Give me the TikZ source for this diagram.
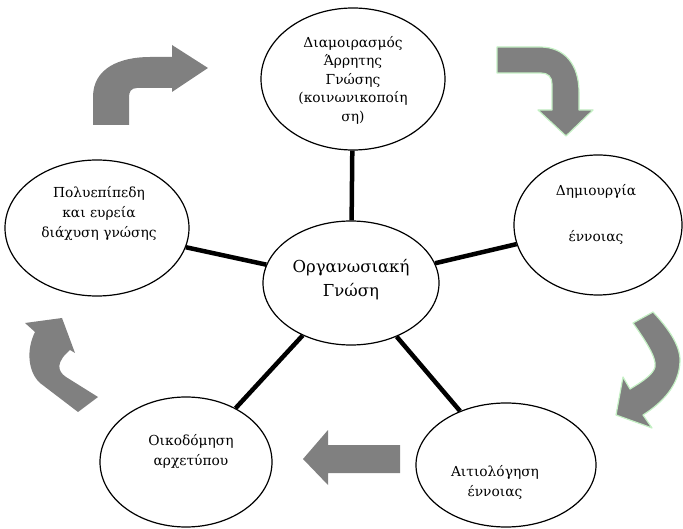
\documentclass[tikz,border=0pt]{standalone}
\usepackage{fontspec}
\setmainfont{DejaVu Serif}
\usetikzlibrary{shapes.geometric}
\definecolor{arrowgray}{RGB}{128,128,128}
\definecolor{paleedge}{RGB}{196,240,196}
\begin{document}
\begin{tikzpicture}[x=1pt,y=-1pt,
  bubble/.style={draw,ellipse,line width=1.2pt,inner sep=0pt},
  caption/.style={align=center,inner sep=0pt,font=\fontsize{13.8}{20}\selectfont},
  bigcaption/.style={align=center,inner sep=0pt,font=\fontsize{16.5}{24}\selectfont},
  spoke/.style={line width=4.5pt},
  flow/.style={fill=arrowgray},
  flowedge/.style={fill=arrowgray,draw=paleedge,line width=1.2pt,line join=round}]
\useasboundingbox (0,0) rectangle (683,529);

% ellipses
\node[bubble,minimum width=176pt,minimum height=124pt] (ctr) at (351,283) {};
\node[bubble,minimum width=184pt,minimum height=142pt] (top) at (353,79) {};
\node[bubble,minimum width=168pt,minimum height=140pt] (rgt) at (598,225) {};
\node[bubble,minimum width=184pt,minimum height=136pt] (lft) at (97,228) {};
\node[bubble,minimum width=172pt,minimum height=130pt] (bl) at (186,462) {};
\node[bubble,minimum width=180pt,minimum height=124pt] (br) at (506,465) {};

% spokes
\draw[spoke] (ctr) -- (top);
\draw[spoke] (ctr) -- (rgt);
\draw[spoke] (ctr) -- (lft);
\draw[spoke] (ctr) -- (bl);
\draw[spoke] (ctr) -- (br);

% labels
\node[bigcaption] (tctr) at (351,280) {Οργανωσιακή\\Γνώση};
\node[caption,font=\fontsize{13.8}{18.5}\selectfont] (ttop) at (353,80) {Διαμοιρασμός\\Άρρητης\\Γνώσης\\(κοινωνικοποίη\\ση)};
\node[caption] (trgt) at (596,214) {Δημιουργία\\[3pt] \\[3pt]έννοιας};
\node[caption] (tlft) at (99,214) {Πολυεπίπεδη\\και ευρεία\\διάχυση γνώσης};
\node[caption] (tbl) at (191,452) {Οικοδόμηση\\αρχετύπου};
\node[caption] (tbr) at (495,482) {Αιτιολόγηση\\έννοιας};

% bent arrow, upper left
\fill[flow] (93,125) -- (93,97) .. controls (93,68) and (120,57) .. (150,57)
  -- (172,57) -- (172,45) -- (208,68) -- (172,92) -- (172,88) -- (137,88)
  .. controls (131,88) and (129,92) .. (129,97) -- (129,125) -- cycle;

% bent arrow, upper right
\draw[flowedge] (497,47) -- (540,47) .. controls (565,47) and (579,65) .. (579,92)
  -- (579,110) -- (593,110) -- (566,136) -- (538,110) -- (552,110) -- (552,84)
  .. controls (552,77) and (548,73) .. (541,73) -- (497,73) -- cycle;

% curved arrow, right side
\draw[flowedge] (633,323) .. controls (645,340) and (657,358) .. (655,367)
  .. controls (653,374) and (645,380) .. (630,389) -- (623,377) -- (616,415)
  -- (652,428) -- (643,415) .. controls (662,403) and (680,385) .. (680,360)
  .. controls (680,345) and (668,328) .. (653,312) -- cycle;

% straight arrow, bottom
\fill[flow] (400,445) -- (328,445) -- (328,430) -- (303,459) -- (328,485)
  -- (328,473) -- (400,473) -- cycle;

% curved arrow, lower left
\fill[flow] (98,397) -- (66,377) .. controls (57,371) and (56,362) .. (70,350)
  -- (75,353) -- (62,318) -- (25,323) -- (35,332)
  .. controls (26,350) and (28,372) .. (40,383) -- (78,412) -- cycle;
\end{tikzpicture}
\end{document}
